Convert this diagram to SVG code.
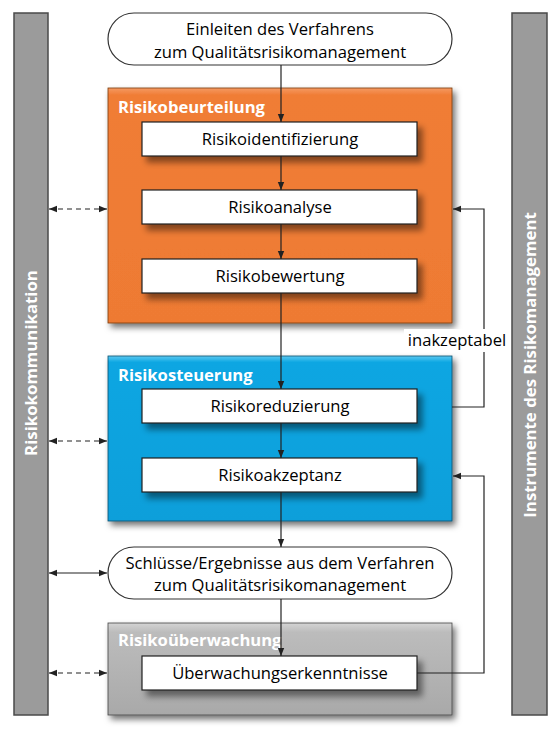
<svg xmlns="http://www.w3.org/2000/svg" width="560" height="732" viewBox="0 0 560 732">
<style>
.bar{fill:#9b9b9b;stroke:#4a4a4a;stroke-width:1.5}
.bartxt{font-family:"Open Sans","Noto Sans",sans-serif;font-weight:bold;font-size:16.8px;fill:#fff;text-anchor:middle}
.pill{fill:#fff;stroke:#333;stroke-width:1.2}
.txt{font-family:"Open Sans","Noto Sans",sans-serif;font-size:16.6px;fill:#000;text-anchor:middle}
.title{font-family:"Open Sans","Noto Sans",sans-serif;font-weight:bold;font-size:16.6px;fill:#fff}
.inner{fill:#fff;stroke:#222;stroke-width:1.2}
.line{fill:none;stroke:#222;stroke-width:1.2}
.dash{fill:none;stroke:#222;stroke-width:1.2;stroke-dasharray:5,4}
</style>
<defs>
<marker id="ah" viewBox="0 0 10 10" refX="10" refY="5" markerWidth="7" markerHeight="7" orient="auto-start-reverse"><path d="M0,1 L10,5 L0,9 z" fill="#222"/></marker>
<filter id="sh" x="-10%" y="-10%" width="125%" height="130%"><feDropShadow dx="3" dy="4" stdDeviation="3" flood-color="#000" flood-opacity="0.55"/></filter>
<filter id="shi" x="-10%" y="-20%" width="125%" height="160%"><feDropShadow dx="5" dy="6" stdDeviation="3" flood-color="#000" flood-opacity="0.45"/></filter>
<linearGradient id="gOr" x1="0" y1="0" x2="0" y2="1"><stop offset="0" stop-color="#f59a62"/><stop offset="0.03" stop-color="#f07d36"/><stop offset="1" stop-color="#ee7a33"/></linearGradient>
<linearGradient id="gBl" x1="0" y1="0" x2="0" y2="1"><stop offset="0" stop-color="#5cc8f0"/><stop offset="0.04" stop-color="#0aa6e2"/><stop offset="1" stop-color="#079fda"/></linearGradient>
<linearGradient id="gGr" x1="0" y1="0" x2="0" y2="1"><stop offset="0" stop-color="#d4d4d4"/><stop offset="0.1" stop-color="#bcbcbc"/><stop offset="1" stop-color="#a9a9a9"/></linearGradient>
</defs>

<g id="bar-left"><rect class="bar" x="14" y="13" width="34" height="702"/><text class="bartxt" transform="translate(37,363) rotate(-90)">Risikokommunikation</text></g>
<g id="bar-right"><rect class="bar" x="512" y="13" width="35" height="702"/><text class="bartxt" transform="translate(536,365) rotate(-90)">Instrumente des Risikomanagement</text></g>

<g id="start"><rect class="pill" x="108" y="13" width="344" height="52" rx="26"/><text class="txt" x="280" y="35">Einleiten des Verfahrens</text><text class="txt" x="280" y="58">zum Qualitätsrisikomanagement</text></g>

<g id="beurteilung"><rect x="108" y="88" width="344" height="235" fill="url(#gOr)" filter="url(#sh)" stroke="#7a3a10" stroke-width="0.8"/><text class="title" x="118" y="113">Risikobeurteilung</text></g>
<g id="identifizierung"><rect class="inner" x="142" y="122" width="275" height="34" filter="url(#shi)"/><text class="txt" x="280" y="145">Risikoidentifizierung</text></g>
<g id="analyse"><rect class="inner" x="142" y="190" width="275" height="34" filter="url(#shi)"/><text class="txt" x="280" y="213">Risikoanalyse</text></g>
<g id="bewertung"><rect class="inner" x="142" y="259" width="275" height="34" filter="url(#shi)"/><text class="txt" x="280" y="282">Risikobewertung</text></g>

<g id="steuerung"><rect x="108" y="356" width="344" height="165" fill="url(#gBl)" filter="url(#sh)" stroke="#0a4f6e" stroke-width="0.8"/><text class="title" x="118" y="381">Risikosteuerung</text></g>
<g id="reduzierung"><rect class="inner" x="142" y="389" width="275" height="34" filter="url(#shi)"/><text class="txt" x="280" y="412">Risikoreduzierung</text></g>
<g id="akzeptanz"><rect class="inner" x="142" y="458" width="275" height="34" filter="url(#shi)"/><text class="txt" x="280" y="481">Risikoakzeptanz</text></g>

<g id="ergebnisse"><rect class="pill" x="108" y="547" width="344" height="52" rx="26"/><text class="txt" x="280" y="569">Schlüsse/Ergebnisse aus dem Verfahren</text><text class="txt" x="280" y="591">zum Qualitätsrisikomanagement</text></g>

<g id="ueberwachung"><rect x="108" y="623" width="344" height="92" fill="url(#gGr)" filter="url(#sh)" stroke="#444" stroke-width="0.8"/><text class="title" x="118" y="646">Risikoüberwachung</text></g>
<g id="erkenntnisse"><rect class="inner" x="142" y="656" width="275" height="34" filter="url(#shi)"/><text class="txt" x="280" y="679">Überwachungserkenntnisse</text></g>

<g id="connectors">
<line class="line" x1="281" y1="65" x2="281" y2="122" marker-end="url(#ah)"/>
<line class="line" x1="281" y1="156" x2="281" y2="190" marker-end="url(#ah)"/>
<line class="line" x1="281" y1="224" x2="281" y2="259" marker-end="url(#ah)"/>
<line class="line" x1="281" y1="293" x2="281" y2="389" marker-end="url(#ah)"/>
<line class="line" x1="281" y1="423" x2="281" y2="458" marker-end="url(#ah)"/>
<line class="line" x1="281" y1="492" x2="281" y2="547" marker-end="url(#ah)"/>
<line class="line" x1="281" y1="599" x2="281" y2="656" marker-end="url(#ah)"/>
<polyline class="line" points="452,407 484,407 484,209 453,209" marker-end="url(#ah)"/>
<polyline class="line" points="417,673 484,673 484,476 453,476" marker-end="url(#ah)"/>
<line class="dash" x1="49" y1="209" x2="107" y2="209" marker-start="url(#ah)" marker-end="url(#ah)"/>
<line class="dash" x1="49" y1="441" x2="107" y2="441" marker-start="url(#ah)" marker-end="url(#ah)"/>
<line class="line" x1="49" y1="573" x2="107" y2="573" marker-start="url(#ah)" marker-end="url(#ah)"/>
<line class="dash" x1="49" y1="673" x2="107" y2="673" marker-start="url(#ah)" marker-end="url(#ah)"/>
<rect x="404" y="329" width="106" height="23" fill="#fff"/>
<text class="txt" x="457" y="346">inakzeptabel</text>
</g>
</svg>
